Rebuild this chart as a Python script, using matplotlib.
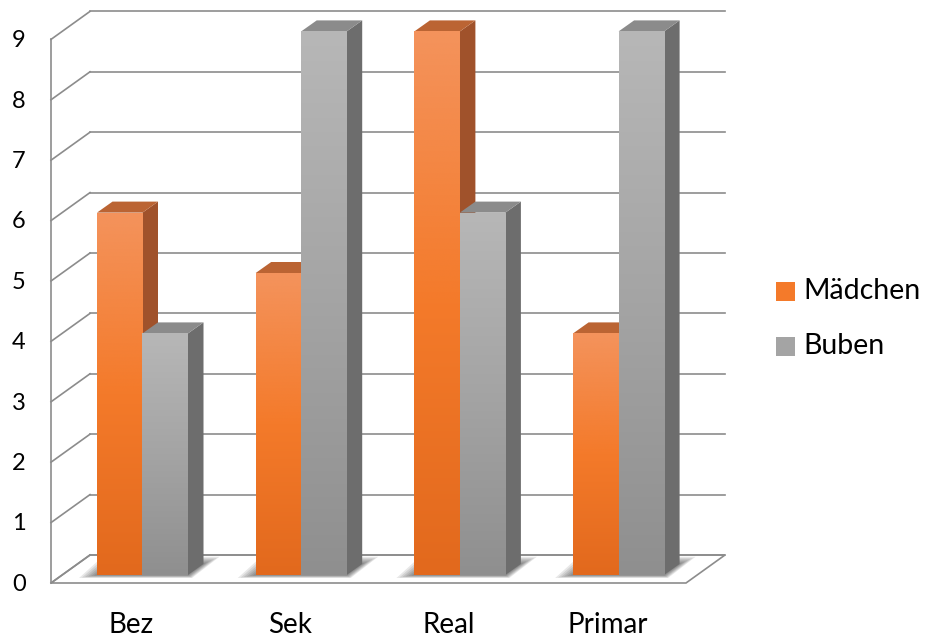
"""Excel-style 3D clustered columns: Mädchen vs Buben per school type."""
import matplotlib

matplotlib.use("Agg")
import matplotlib.pyplot as plt
from matplotlib.colors import LinearSegmentedColormap
from matplotlib.patches import Polygon, Rectangle
import numpy as np

# ---------------------------------------------------------------------------
# Data
# ---------------------------------------------------------------------------
categories = ["Bez", "Sek", "Real", "Primar"]
series_names = ["Mädchen", "Buben"]
maedchen = [6, 5, 9, 4]
buben = [4, 9, 6, 9]
y_ticks = list(range(0, 10))

# ---------------------------------------------------------------------------
# Geometry (x in pixels, y in value units)
# ---------------------------------------------------------------------------
W, H = 928, 642
PX = 60.4            # pixels per value unit
def val(p):
    return (583 - p) / PX

X_FRONT = 51         # front edge of the left wall
DX, DY = 39, 28 / PX  # depth offset of the walls
X_RIGHT = 686        # front-right corner of the floor
BAR_W = 45.5
GROUP_X0 = 97
GROUP_STEP = 158.7
BASE = 8 / PX        # bars stand a little behind the front edge
BDX, BDY = 15.5, 11 / PX  # bar depth offset
LABEL_SHIFT = 11

GRID = "#8c8c8c"

styles = [
    dict(front=["#f4935c", "#f47a2a", "#e2691d"], side="#a0522b", top="#bb6433"),
    dict(front=["#b7b7b7", "#a4a4a4", "#8f8f8f"], side="#6d6d6d", top="#8b8b8b"),
]

plt.rcParams["font.family"] = ["Lato", "DejaVu Sans"]

fig = plt.figure(figsize=(W / 100, H / 100), dpi=100)
ax = fig.add_axes([0, 0, 1, 1])
ax.set_xlim(0, W)
ax.set_ylim(val(H), val(0))
ax.axis("off")

# --- walls and floor --------------------------------------------------------
floor = Polygon([(X_FRONT, 0), (X_RIGHT, 0), (X_RIGHT + DX, DY), (X_FRONT + DX, DY)],
                closed=True, facecolor="white", edgecolor=GRID, lw=1.2, zorder=1)
ax.add_patch(floor)
for v in y_ticks:
    ax.plot([X_FRONT, X_FRONT + DX], [v, v + DY], color=GRID, lw=1.2, zorder=1)
    ax.plot([X_FRONT + DX, X_RIGHT + DX], [v + DY, v + DY], color=GRID, lw=1.2, zorder=1)
    ax.text(19, v - 0.02, str(v), ha="center", va="center", fontsize=17, color="black")
ax.plot([X_FRONT, X_FRONT], [0, max(y_ticks)], color=GRID, lw=1.2, zorder=1)

# --- soft shadows at the base of each group ---------------------------------
for i in range(len(categories)):
    gx = GROUP_X0 + i * GROUP_STEP
    right = gx + 2 * BAR_W
    for k in range(6):
        g = 1 - k / 6
        pts = [(gx - 18 * g, BASE - 0.05 * g),
               (right + 4 * g, BASE - 0.05 * g),
               (right + BDX + 16 * g, BASE + BDY + 0.12 * g),
               (gx + BDX - 10 * g, BASE + BDY + 0.12 * g)]
        ax.add_patch(Polygon(pts, closed=True, facecolor="black", edgecolor="none",
                             alpha=0.09, zorder=2))

# --- bars -------------------------------------------------------------------
grad = np.linspace(0, 1, 256).reshape(-1, 1)
for i, cat in enumerate(categories):
    gx = GROUP_X0 + i * GROUP_STEP
    for s, values in enumerate([maedchen, buben]):
        st = styles[s]
        x0 = gx + s * BAR_W
        top = BASE + values[i]
        z = 3 + s
        # side and top faces
        ax.add_patch(Polygon([(x0 + BAR_W, BASE), (x0 + BAR_W + BDX, BASE + BDY),
                              (x0 + BAR_W + BDX, top + BDY), (x0 + BAR_W, top)],
                             closed=True, facecolor=st["side"], edgecolor="none", zorder=z))
        ax.add_patch(Polygon([(x0, top), (x0 + BAR_W, top),
                              (x0 + BAR_W + BDX, top + BDY), (x0 + BDX, top + BDY)],
                             closed=True, facecolor=st["top"], edgecolor="none", zorder=z))
        # front face with vertical gradient
        bar = ax.bar(x0, values[i], width=BAR_W, bottom=BASE, align="edge",
                     color=st["front"][2], edgecolor="none", zorder=z)[0]
        cmap = LinearSegmentedColormap.from_list("f", st["front"][::-1])
        im = ax.imshow(grad, extent=(x0, x0 + BAR_W, BASE, top), origin="lower",
                       cmap=cmap, aspect="auto", zorder=z, interpolation="bicubic")
        im.set_clip_path(bar)
    ax.text(gx + BAR_W - LABEL_SHIFT, val(625), cat, ha="center", va="center",
            fontsize=20, color="black")

# --- legend -----------------------------------------------------------------
for s, name in enumerate(series_names):
    yc = val(291 + s * 55)
    sq = 19 / PX
    ax.add_patch(Rectangle((776, yc - sq / 2), 19, sq, facecolor=styles[s]["front"][1],
                           edgecolor="none", zorder=5))
    ax.text(803, yc, name, ha="left", va="center", fontsize=20.5, color="black")

fig.savefig("out.png", dpi=100)
